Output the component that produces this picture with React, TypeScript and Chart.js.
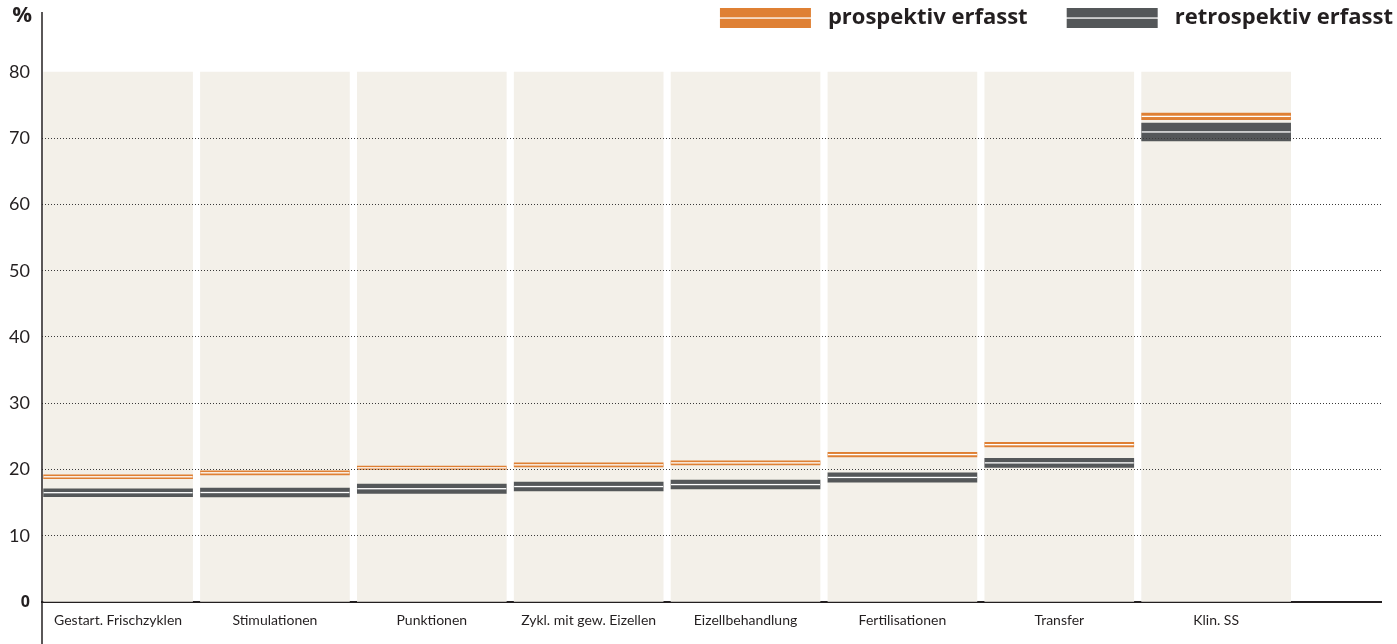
import React, { useEffect, useRef } from "react";
import { Chart, registerables } from "chart.js";

Chart.register(...registerables);

const categories = [
  "Gestart. Frischzyklen",
  "Stimulationen",
  "Punktionen",
  "Zykl. mit gew. Eizellen",
  "Eizellbehandlung",
  "Fertilisationen",
  "Transfer",
  "Klin. SS",
];
const columnTop = [80, 80, 80, 80, 80, 80, 80, 80];
const prospLow = [18.6, 19.2, 20.0, 20.4, 20.7, 21.9, 23.4, 72.8];
const prospHigh = [19.2, 19.8, 20.5, 21.0, 21.3, 22.6, 24.1, 73.8];
const retroLow = [15.9, 15.85, 16.4, 16.75, 17.05, 18.1, 20.3, 69.6];
const retroHigh = [17.1, 17.2, 17.8, 18.1, 18.4, 19.5, 21.7, 72.3];
const yTicks = [0, 10, 20, 30, 40, 50, 60, 70, 80];
const seriesLabels = ["prospektiv erfasst", "retrospektiv erfasst"];

const ORANGE = "#df8034";
const GREY = "#545759";
const BEIGE = "#f3f0e9";
const INK = "#231f20";
const FONT = "Lato";
const LEGEND_FONT = "Open Sans";
const SW_W = 132;

function makeSwatch(color: string) {
  const c = document.createElement("canvas");
  c.width = SW_W;
  c.height = 20;
  const g = c.getContext("2d")!;
  g.fillStyle = color;
  g.fillRect(SW_W - 97, 0, 91, 20);
  g.fillStyle = "#ffffff";
  g.fillRect(SW_W - 97, 9.4, 91, 1.3);
  return c;
}

export default function App() {
  const ref = useRef<HTMLCanvasElement | null>(null);
  useEffect(() => {
    document.body.style.margin = "0";
    const swO = makeSwatch(ORANGE);
    const swG = makeSwatch(GREY);

    const midlines = {
      id: "midlines",
      afterDatasetsDraw(chart: any) {
        const ctx = chart.ctx;
        [0, 1].forEach((di) => {
          const meta = chart.getDatasetMeta(di);
          meta.data.forEach((bar: any) => {
            const p = bar.getProps(["x", "y", "base", "width"], true);
            const mid = (p.y + p.base) / 2;
            ctx.save();
            ctx.fillStyle = "#ffffff";
            ctx.fillRect(p.x - p.width / 2, mid - 0.65, p.width, 1.3);
            ctx.restore();
          });
        });
      },
    };

    const axisDecor = {
      id: "axisDecor",
      afterDraw(chart: any) {
        const ctx = chart.ctx;
        const left = chart.chartArea.left;
        ctx.save();
        ctx.strokeStyle = INK;
        ctx.lineWidth = 1.5;
        ctx.beginPath();
        ctx.moveTo(left, 12);
        ctx.lineTo(left, chart.height);
        ctx.stroke();
        ctx.fillStyle = INK;
        ctx.font = `bold 22px ${LEGEND_FONT}`;
        ctx.textAlign = "right";
        ctx.textBaseline = "middle";
        ctx.fillText("%", 32, 16);
        ctx.restore();
      },
    };

    const chart = new Chart(ref.current!, {
      type: "bar",
      data: {
        datasets: [
          {
            label: seriesLabels[0],
            data: categories.map((_, i) => ({ x: i + 0.5, y: [prospLow[i], prospHigh[i]] })) as any,
            backgroundColor: ORANGE,
            grouped: false,
            barThickness: 149,
            order: 1,
          },
          {
            label: seriesLabels[1],
            data: categories.map((_, i) => ({ x: i + 0.5, y: [retroLow[i], retroHigh[i]] })) as any,
            backgroundColor: GREY,
            grouped: false,
            barThickness: 149,
            order: 2,
          },
          {
            label: "bg",
            data: categories.map((_, i) => ({ x: i + 0.5, y: columnTop[i] })) as any,
            backgroundColor: BEIGE,
            grouped: false,
            barThickness: 149,
            order: 3,
          },
        ],
      },
      options: {
        animation: false,
        responsive: false,
        devicePixelRatio: 1,
        layout: { padding: { top: 3, left: 0, right: 0, bottom: 0 } },
        plugins: {
          tooltip: { enabled: false },
          legend: {
            position: "top",
            align: "end",
            labels: {
              usePointStyle: true,
              pointStyleWidth: SW_W,
              boxHeight: 20,
              padding: 4,
              color: INK,
              font: { family: LEGEND_FONT, size: 22, weight: "bold" },
              generateLabels: () => [
                {
                  text: seriesLabels[0],
                  pointStyle: swO as any,
                  fillStyle: ORANGE,
                  strokeStyle: "transparent",
                  lineWidth: 0,
                  hidden: false,
                  datasetIndex: 0,
                  fontColor: INK,
                },
                {
                  text: seriesLabels[1],
                  pointStyle: swG as any,
                  fillStyle: GREY,
                  strokeStyle: "transparent",
                  lineWidth: 0,
                  hidden: false,
                  datasetIndex: 1,
                  fontColor: INK,
                },
              ],
            },
          },
        },
        scales: {
          x: {
            type: "linear",
            offset: false,
            min: 0.015,
            max: 8.551,
            afterBuildTicks: (s: any) => {
              s.ticks = categories.map((_, i) => ({ value: i + 0.5 }));
            },
            afterFit: (s: any) => {
              s.height = 42;
            },
            grid: { display: false, drawTicks: false, offset: false },
            border: { display: true, color: INK, width: 2 },
            ticks: {
              autoSkip: false,
              maxRotation: 0,
              padding: 10,
              color: INK,
              font: { family: FONT, size: 14 },
              callback: (_v: any, idx: number) => categories[idx],
            },
          },
          y: {
            type: "linear",
            min: 0,
            max: 84.98,
            afterBuildTicks: (s: any) => {
              s.ticks = yTicks.map((v) => ({ value: v }));
            },
            afterFit: (s: any) => {
              s.width = 42;
            },
            grid: {
              z: 1,
              drawTicks: false,
              lineWidth: 1,
              color: (ctx: any) =>
                ctx.tick && ctx.tick.value > 0 && ctx.tick.value < 80 ? "#3a3a3a" : "rgba(0,0,0,0)",
            },
            border: { display: false, dash: [1, 2] },
            ticks: {
              padding: 12,
              color: INK,
              font: (ctx: any) =>
                ctx.tick && ctx.tick.value === 0
                  ? { family: LEGEND_FONT, size: 16, weight: "bold" }
                  : { family: FONT, size: 18 },
            },
          },
          yPad: {
            type: "linear",
            position: "right",
            display: true,
            grid: { display: false, drawTicks: false },
            border: { display: false },
            ticks: { display: false },
            afterFit: (s: any) => {
              s.width = 16;
            },
          },
        },
      } as any,
      plugins: [midlines, axisDecor],
    });
    return () => chart.destroy();
  }, []);
  return (
    <div style={{ width: 1397, height: 644 }}>
      <canvas ref={ref} width={1397} height={644} />
    </div>
  );
}
